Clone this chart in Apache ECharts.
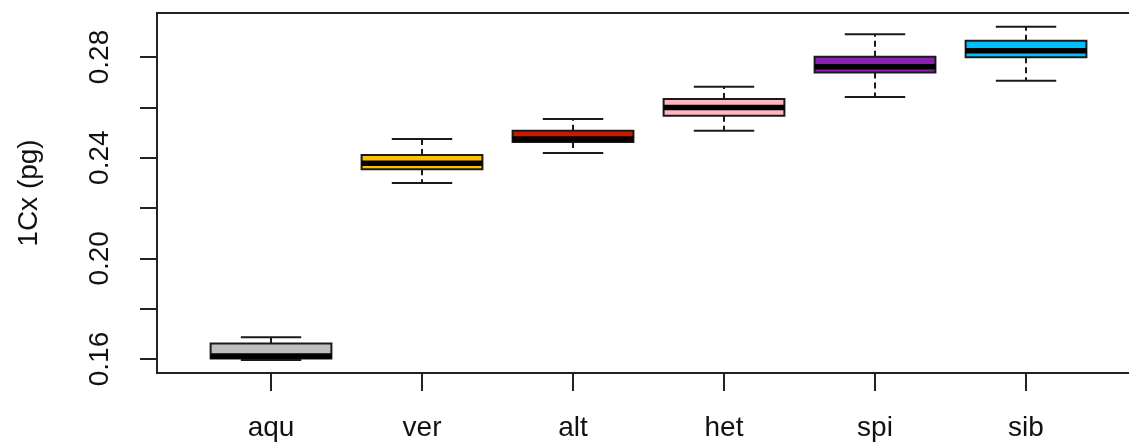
<!DOCTYPE html>
<html>
<head>
<meta charset="utf-8">
<script src="https://cdn.jsdelivr.net/npm/echarts@6/dist/echarts.min.js"></script>
<style>
html,body{margin:0;padding:0;background:#fff;}
#chart{width:1129px;height:447px;}
</style>
</head>
<body>
<div id="chart"></div>
<script>
// 分组与颜色
var groups = ['aqu', 'ver', 'alt', 'het', 'spi', 'sib'];
var boxColors = ['#BEBEBE', '#FFC000', '#CC1A00', '#FFB6C1', '#8B1FB0', '#00BFFF'];
// 箱线图五数：下须, Q1, 中位数, Q3, 上须
var whiskerLow = [0.1596, 0.2299, 0.2419, 0.2507, 0.2641, 0.2706];
var q1 = [0.1602, 0.2354, 0.2462, 0.2567, 0.2738, 0.2799];
var medians = [0.1612, 0.2378, 0.2474, 0.2599, 0.2761, 0.2825];
var q3 = [0.1662, 0.2411, 0.2507, 0.2633, 0.2801, 0.2865];
var whiskerHigh = [0.1686, 0.2474, 0.2554, 0.2682, 0.2890, 0.2920];
var yTicks = [0.16, 0.18, 0.20, 0.22, 0.24, 0.26, 0.28];
var yLabels = [0.16, 0.20, 0.24, 0.28];

var boxData = [];
for (var i = 0; i < groups.length; i++) {
	boxData.push([i + 1, whiskerLow[i], q1[i], medians[i], q3[i], whiskerHigh[i]]);
}

function renderBox(params, api) {
	var x = api.value(0);
	var idx = params.dataIndex;
	var pLow = api.coord([x, api.value(1)]);
	var pQ1 = api.coord([x, api.value(2)]);
	var pMed = api.coord([x, api.value(3)]);
	var pQ3 = api.coord([x, api.value(4)]);
	var pHigh = api.coord([x, api.value(5)]);
	var halfBox = (api.coord([x + 0.4, 0])[0] - api.coord([x, 0])[0]);
	var halfCap = halfBox / 2;
	var cx = pMed[0];
	var lineStyle = {stroke: '#1a1a1a', lineWidth: 2};
	return {
		type: 'group',
		children: [
			{type: 'line', shape: {x1: cx, y1: pQ3[1], x2: cx, y2: pHigh[1]}, style: {stroke: '#1a1a1a', lineWidth: 2, lineDash: [6, 4]}},
			{type: 'line', shape: {x1: cx, y1: pQ1[1], x2: cx, y2: pLow[1]}, style: {stroke: '#1a1a1a', lineWidth: 2, lineDash: [6, 4]}},
			{type: 'line', shape: {x1: cx - halfCap, y1: pHigh[1], x2: cx + halfCap, y2: pHigh[1]}, style: lineStyle},
			{type: 'line', shape: {x1: cx - halfCap, y1: pLow[1], x2: cx + halfCap, y2: pLow[1]}, style: lineStyle},
			{type: 'rect', shape: {x: cx - halfBox, y: pQ3[1], width: halfBox * 2, height: pQ1[1] - pQ3[1]},
				style: {fill: boxColors[idx], stroke: '#1a1a1a', lineWidth: 2}},
			{type: 'line', shape: {x1: cx - halfBox, y1: pMed[1], x2: cx + halfBox, y2: pMed[1]}, style: {stroke: '#000', lineWidth: 5.5}}
		]
	};
}

var chart = echarts.init(document.getElementById('chart'));
var option = {
	backgroundColor: '#fff',
	animation: false,
	// 右边框在截图外
	grid: {left: 157, width: 980, top: 13, bottom: 74, containLabel: false, outerBoundsMode: 'none',
		show: true, borderColor: '#222', borderWidth: 2, backgroundColor: 'transparent'},
	xAxis: {
		type: 'value', min: 0.245, max: 6.735,
		splitLine: {show: false},
		axisLine: {show: true, lineStyle: {color: '#222', width: 2}},
		axisTick: {show: true, length: 18, lineStyle: {color: '#222', width: 2}, customValues: [1, 2, 3, 4, 5, 6]},
		axisLabel: {
			margin: 41, fontFamily: 'Liberation Sans', fontSize: 28, color: '#111',
			customValues: [1, 2, 3, 4, 5, 6],
			formatter: function(v){ return groups[Math.round(v) - 1]; }
		}
	},
	yAxis: {
		type: 'value', min: 0.15444, max: 0.29748,
		name: '1Cx (pg)', nameLocation: 'middle', nameGap: 114, nameRotate: 90,
		nameTextStyle: {fontFamily: 'Liberation Sans', fontSize: 28, color: '#111'},
		splitLine: {show: false},
		axisLine: {show: true, lineStyle: {color: '#222', width: 2}},
		axisTick: {show: true, length: 17, lineStyle: {color: '#222', width: 2}, customValues: yTicks},
		axisLabel: {
			rotate: 90, margin: 43, fontFamily: 'Liberation Sans', fontSize: 28, color: '#111',
			customValues: yLabels,
			formatter: function(v){ return v.toFixed(2); }
		}
	},
	series: [{
		type: 'custom',
		renderItem: renderBox,
		encode: {x: 0, y: [1, 2, 3, 4, 5]},
		data: boxData,
		clip: false
	}]
};
chart.setOption(option);
</script>
</body>
</html>
